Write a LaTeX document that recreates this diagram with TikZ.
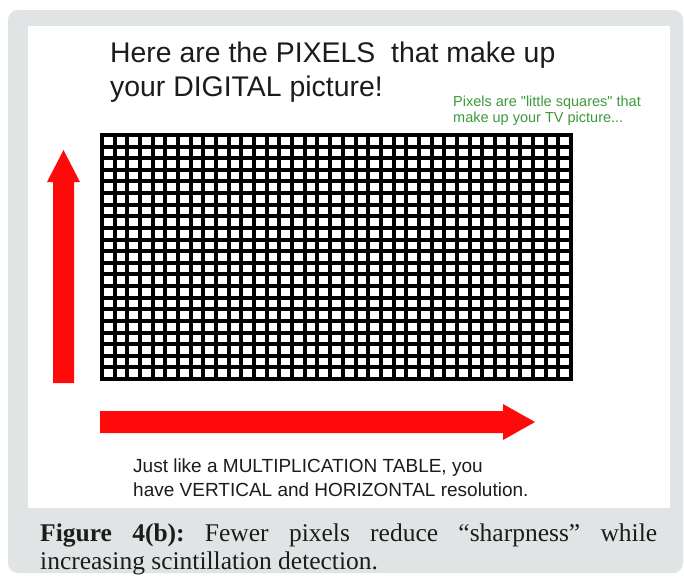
\documentclass[tikz,border=0pt]{standalone}
\usepackage{fontspec}
\setmainfont{Liberation Serif}
\newfontfamily\arialfont{Liberation Sans}
\definecolor{framegray}{HTML}{E1E4E5}
\definecolor{arrowred}{HTML}{FF0A0A}
\definecolor{notegreen}{HTML}{3C9A3C}
\definecolor{inktext}{HTML}{1C1C1C}
\frenchspacing
\begin{document}
\begin{tikzpicture}[x=1pt,y=-1pt,
  linetext/.style={anchor=base west,inner sep=0pt,text=inktext,font=\arialfont},
  redarrow/.style={fill=arrowred,draw=none}]
\useasboundingbox (0,0) rectangle (684,579);
\fill[white] (0,0) rectangle (684,579);
% outer caption frame and inner white panel
\fill[framegray,rounded corners=10pt] (8,10) rectangle (683,573);
\fill[white] (28,26) rectangle (670,508);

% title
\node[linetext,font=\arialfont\fontsize{28.4}{34}\selectfont] (title1) at (110,62) {Here are the PIXELS\ \ that make up};
\node[linetext,font=\arialfont\fontsize{28.4}{34}\selectfont] (title2) at (110,96) {your DIGITAL picture!};

% side note
\node[linetext,text=notegreen,font=\arialfont\fontsize{14.5}{16}\selectfont] (note1) at (453,106) {Pixels are "little squares" that};
\node[linetext,text=notegreen,font=\arialfont\fontsize{14.5}{16}\selectfont] (note2) at (453,122) {make up your TV picture...};

% pixel grid: 37 columns by 21 rows of white cells on black
\def\gridgap{4}
\fill[black] (100,133) rectangle (573,381);
\pgfmathsetmacro{\cw}{(473-\gridgap)/37}
\pgfmathsetmacro{\rh}{(248-\gridgap)/21}
\foreach \i in {0,...,36}{
  \foreach \j in {0,...,20}{
    \fill[white] ({100+\gridgap+\i*\cw},{133+\gridgap+\j*\rh}) rectangle ++({\cw-\gridgap},{\rh-\gridgap});
  }
}

% vertical and horizontal resolution arrows
\fill[redarrow] (53,383) -- (53,182) -- (47,182) -- (63.5,150) -- (80,182) -- (74,182) -- (74,383) -- cycle;
\fill[redarrow] (100,411) -- (503,411) -- (503,404) -- (535,422) -- (503,440) -- (503,433) -- (100,433) -- cycle;

% explanation
\node[linetext,font=\arialfont\fontsize{19}{24}\selectfont] (expl1) at (133,472) {Just like a MULTIPLICATION TABLE, you};
\node[linetext,font=\arialfont\fontsize{19}{24}\selectfont] (expl2) at (133,496) {have VERTICAL and HORIZONTAL resolution.};

% caption
\node[linetext,font=\fontsize{25.5}{29}\selectfont] (cap1) at (40,541) {\makebox[617pt][s]{\textbf{Figure 4(b):} Fewer pixels reduce “sharpness” while}};
\node[linetext,font=\fontsize{25.5}{29}\selectfont] (cap2) at (40,569) {increasing scintillation detection.};
\end{tikzpicture}
\end{document}
